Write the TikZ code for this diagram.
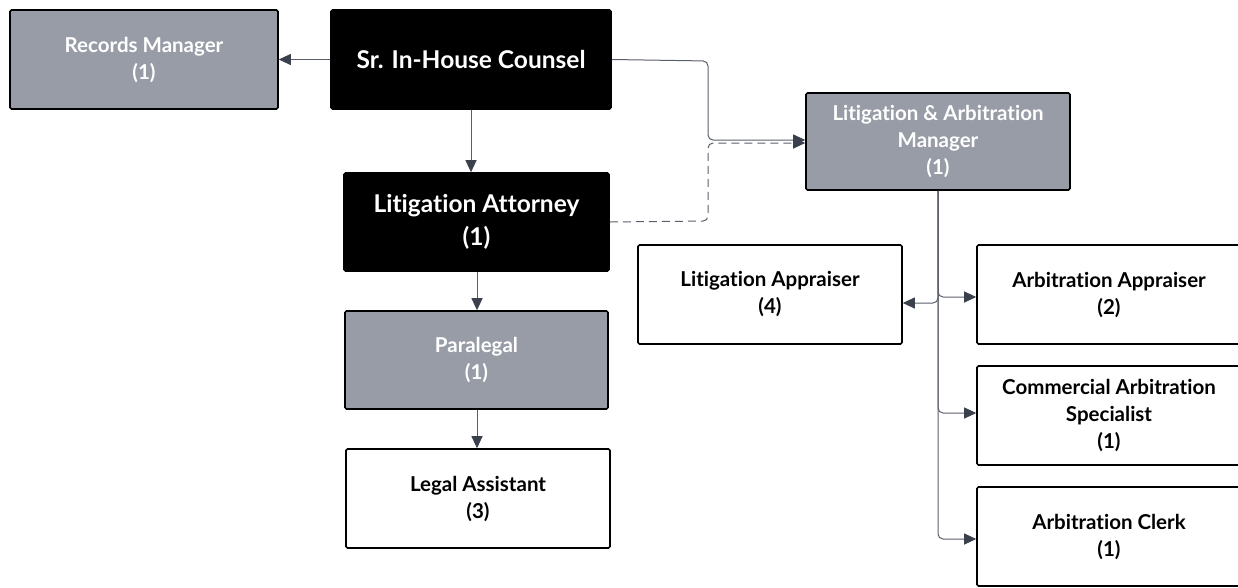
\documentclass[tikz,border=0pt]{standalone}
\usepackage{fontspec}
\setmainfont{Lato}[Ligatures=NoCommon]
\usetikzlibrary{arrows.meta}
\definecolor{boxgrey}{HTML}{979CA6}
\definecolor{linegrey}{HTML}{5A606B}
\definecolor{tipgrey}{HTML}{3A414C}
\tikzset{
  box/.style={draw=black, line width=1.6pt, rounded corners=1.5pt, minimum width=#1, align=center, font=\bfseries\fontsize{20.5}{27}\selectfont},
  graybox/.style={box=#1, fill=boxgrey, text=white},
  whitebox/.style={box=#1, fill=white, text=black},
  darkbox/.style={box=#1, fill=black, text=white, font=\bfseries\fontsize{24.5}{33}\selectfont},
  conn/.style={draw=linegrey, line width=1pt, rounded corners=5pt, -{Triangle[length=12pt,width=11pt,color=tipgrey]}},
  dashconn/.style={conn, dash pattern=on 8pt off 5pt}
}
\begin{document}
\begin{tikzpicture}[x=1pt,y=-1pt]
\useasboundingbox (0,0) rectangle (1238,587);
% boxes (positions in picture units)
\node[graybox=268pt, minimum height=99pt] (rec) at (144,59.5) {Records Manager\\(1)};
\node[darkbox=280pt, minimum height=99pt] (sr) at (471,59.5) {Sr. In-House Counsel};
\node[darkbox=265pt, minimum height=98pt] (lat) at (476.5,222) {Litigation Attorney\\(1)};
\node[graybox=263pt, minimum height=98pt] (par) at (476.5,360) {Paralegal\\(1)};
\node[whitebox=264pt, minimum height=99pt] (las) at (478,498.5) {Legal Assistant\\(3)};
\node[graybox=264pt, minimum height=97pt] (mgr) at (938,141.5) {Litigation \& Arbitration\\Manager\\(1)};
\node[whitebox=264pt, minimum height=99pt] (lap) at (770,294.5) {Litigation Appraiser\\(4)};
\node[whitebox=264pt, minimum height=99pt] (aap) at (1109,294.5) {Arbitration Appraiser\\(2)};
\node[whitebox=264pt, minimum height=99pt] (cas) at (1109,415.5) {Commercial Arbitration\\Specialist\\(1)};
\node[whitebox=264pt, minimum height=99pt] (acl) at (1109,536.5) {Arbitration Clerk\\(1)};
% reporting lines
\draw[conn] (sr.west) -- (rec.east);
\draw[conn] (sr.south -| 471,0) -- (lat.north -| 471,0);
\draw[conn] (sr.east) -- (708,61) -- (708,140) -- (mgr.west |- 0,140);
\draw[dashconn] (lat.east) -- (708,221) -- (708,143) -- (mgr.west |- 0,143);
\draw[conn] (lat.south -| 477,0) -- (par.north -| 477,0);
\draw[conn] (par.south -| 477,0) -- (las.north -| 477,0);
\draw[conn] (mgr.south) -- (938,303) -- (lap.east |- 0,303);
\draw[conn] (mgr.south) -- (938,297) -- (aap.west |- 0,297);
\draw[conn] (mgr.south) -- (938,413) -- (cas.west |- 0,413);
\draw[conn] (mgr.south) -- (938,539) -- (acl.west |- 0,539);
\end{tikzpicture}
\end{document}
